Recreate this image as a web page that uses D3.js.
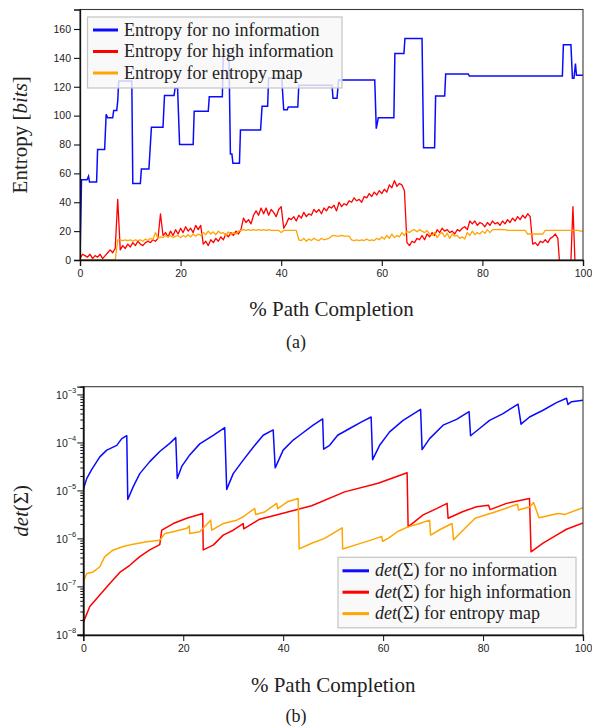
<!DOCTYPE html>
<html><head><meta charset="utf-8">
<script src="https://cdn.jsdelivr.net/npm/d3@7"></script>
<style>body{margin:0;background:#fff}</style>
</head><body><svg id="c" width="592" height="727" xmlns="http://www.w3.org/2000/svg"></svg>
<script>
// ---------- data ----------
const xTicks = [0, 20, 40, 60, 80, 100];
const entropyTicks = [0, 20, 40, 60, 80, 100, 120, 140, 160];
const detTicks = [1e-8, 1e-7, 1e-6, 1e-5, 1e-4, 1e-3];
const detTickExp = ["−8", "−7", "−6", "−5", "−4", "−3"];

const entropyLegend = ["Entropy for no information", "Entropy for high information", "Entropy for entropy map"];
const detLegendTail = [" for no information", " for high information", " for entropy map"];
const colors = ["#0a0aff", "#ff0000", "#ffa500"];

// (a) Entropy for no information : step path
const noInfoX = [0,0.3,1.4,1.7,1.9,3.3,3.5,4.9,5.2,5.5,6.5,6.7,7.3,7.5,7.7,10.3,10.5,12.0,12.2,13.7,14.2,16.5,16.8,18.7,18.9,19.4,19.8,22.5,22.7,25.5,25.7,28.3,28.5,29.6,29.9,30.2,30.4,31.7,31.9,35.9,36.2,37.3,37.5,40.1,40.5,41.2,41.4,43.3,43.5,50.1,50.3,51.1,51.4,58.6,58.9,59.3,62.4,62.6,64.4,64.6,68.0,68.3,70.5,70.7,72.5,72.7,77.2,77.4,95.9,96.1,97.6,97.9,98.2,98.5,98.7,100];
const noInfoY = [0,55.5,55.5,58,54,54,76.5,76.5,101,98.5,98.5,103.5,103.5,110,124,124,53,53,63,63,92,92,114,114,119,119,80,80,103,103,113,113,146,146,73.5,73.5,67,67,90,90,106.5,106.5,126,126,104,104,106,106,121,121,112,112,124.6,124.6,91,98.5,98.5,143,143,153.5,153.5,77.8,77.8,113.6,113.6,128.8,128.8,127.4,127.4,149,149,125.8,125.8,136,128,128];

// (a) sampled every 0.5 % of path
const highInfo = [1,4,3,2,4,1,3,2,4,1,3,5,7,5,8,42,7,10,8,11,9,12,10,13,11,10,12,13,12,14,13,15,32,17,19,16,20,17,21,18,22,19,23,20,22,19,24,21,24,11,13,10,14,12,15,13,16,14,18,16,19,17,20,18,21,29,26,28,25,31,34,31,36,32,36,31,35,33,30,35,37,22,25,29,28,30,27,31,29,33,30,32,31,35,33,35,32,36,34,37,36,38,34,40,37,39,38,41,40,43,41,42,40,44,43,46,44,47,45,48,46,49,47,52,50,55,51,53,52,48,12,10,13,12,15,14,17,14,18,16,19,17,21,19,22,20,21,19,20,18,21,20,22,23,21,27,25,27,24,26,25,23,26,24,27,25,26,24,27,25,28,26,29,27,30,28,31,29,32,30,11,12,10,13,12,14,12,15,16,18,15,-10,-10,-10,-10,-10,37,-10,-10,-10,-10];
const entropyMap = [0,0,0,0,0,0,0,0,0,0,0,0,0,0,0,14,14,13.5,14,13.5,14,13,14,13.5,14,13,14.5,13.5,15,14,19,15,16,15.5,17,16,17,15.5,16.5,17,15.5,17,16,17.5,16,18,16.5,18,17,19,17.5,20,18,19.5,17.5,20,18.5,19,17,19.5,17.5,19,18,20,20.5,21,20.5,21,20.5,21,20.5,21,20.5,21,20.5,21,20.5,20.5,20.5,20.5,19,20.5,20.5,20.5,20.5,20.5,20.5,14,13.5,15,13,14.5,13.5,15,14,13.5,15,14,14.5,15,16.5,17,16.5,16.5,17,16.5,16.5,16.5,14,13.5,14,13.5,14,13.5,14.5,13.5,14,13.5,15,14,16,14.5,17,15,18,15.5,17,16,19,17,20,19,20.5,21,19.5,21,20,19,20.5,18,17,19,15.5,18,19,16,18.5,15,18,16.5,17,15,16,14.5,19,17,20,17.5,19,18,20,18.5,21,19,21,21,21,21,21,21,20.5,20.5,20.5,20.5,20.5,20.5,20.5,20.5,18,18,18,18,18,18,18,20.5,20.5,20.5,20.5,20.5,20.5,20.5,20.5,20.5,20.5,20.5,20.5,20.5,20.5,20,20];

// (b) det(Sigma)
const detNoX = [0,0.7,1.7,3.3,4.7,6.7,7.7,8.7,8.9,10.0,11.3,13.3,15.3,17.3,18.5,18.8,19.7,21.3,23.3,26.0,28.3,28.7,30.0,32.0,34.0,36.0,38.0,38.4,40.0,42.0,43.3,46.0,47.9,48.1,49.3,50.9,53.3,55.7,57.6,57.9,59.3,61.3,64.0,67.5,67.8,69.3,72.0,74.7,77.2,77.5,79.3,81.3,84.0,87.0,87.6,89.3,92.0,94.7,96.7,97.0,97.7,100];
const detNoY = [1.05e-5,1.78e-5,2.75e-5,5.0e-5,6.9e-5,8.7e-5,1.2e-4,1.38e-4,6.46e-6,1.2e-5,2.24e-5,3.98e-5,6.46e-5,9.55e-5,1.26e-4,1.78e-5,3.16e-5,5.5e-5,9.33e-5,1.41e-4,2.04e-4,1.05e-5,2.24e-5,4.27e-5,7.94e-5,1.41e-4,1.82e-4,2.95e-5,6.92e-5,1.12e-4,1.41e-4,2.29e-4,3.09e-4,7.24e-5,8.71e-5,1.41e-4,1.95e-4,2.69e-4,3.39e-4,4.37e-5,8.71e-5,1.66e-4,2.88e-4,4.9e-4,7.08e-5,1.2e-4,2.29e-4,3.02e-4,4.37e-4,1.38e-4,1.95e-4,2.88e-4,3.98e-4,6.31e-4,2.4e-4,3.39e-4,4.68e-4,6.76e-4,8.32e-4,6.17e-4,7.08e-4,7.59e-4];

const detHighX = [0,1.3,3.3,5.3,7.3,9.3,11.3,13.3,15.3,15.7,18.0,20.7,23.9,24.0,26.0,28.0,30.0,32.0,32.1,35.3,39.0,45.7,52.3,59.0,64.8,65.0,68.0,70.7,72.8,73.0,76.0,78.7,81.1,81.4,84.7,89.3,89.6,92.0,94.7,96.7,100];
const detHighY = [1.78e-8,3.8e-8,6.61e-8,1.15e-7,1.95e-7,2.75e-7,4.17e-7,5.75e-7,7.41e-7,1.48e-6,2.04e-6,2.63e-6,3.31e-6,5.75e-7,7.24e-7,1.17e-6,1.48e-6,2.04e-6,1.58e-6,2.51e-6,3.16e-6,4.79e-6,9.33e-6,1.41e-5,2.34e-5,1.74e-6,3.09e-6,4.17e-6,5.37e-6,2.63e-6,3.63e-6,4.57e-6,4.9e-6,3.98e-6,5.37e-6,6.76e-6,5.25e-7,7.94e-7,1.17e-6,1.55e-6,2.09e-6];

const detMapX = [0,0.7,2.0,3.3,4.3,6.0,8.0,10.0,12.7,15.3,16.3,18.0,20.7,21.2,21.3,23.3,25.5,25.7,28.0,30.7,32.0,33.3,34.3,34.5,36.3,38.7,38.9,41.0,43.0,43.2,45.7,48.3,51.8,51.9,55.0,57.7,59.7,59.9,61.0,63.0,65.0,67.0,69.3,69.5,71.5,73.8,74.1,78.4,82.4,86.9,87.1,89.4,90.1,91.2,95.0,96.4,100];
const detMapY = [1.26e-7,1.86e-7,2.0e-7,2.57e-7,4.17e-7,5.75e-7,6.76e-7,7.59e-7,8.51e-7,9.12e-7,1.26e-6,1.38e-6,1.62e-6,1.82e-6,1.26e-6,1.38e-6,2.4e-6,1.48e-6,2.04e-6,2.4e-6,2.82e-6,3.55e-6,4.17e-6,3.16e-6,3.55e-6,5.37e-6,4.17e-6,5.89e-6,6.76e-6,6.03e-7,7.94e-7,1.0e-6,1.66e-6,6.03e-7,7.59e-7,9.33e-7,1.1e-6,8.71e-7,1.0e-6,1.41e-6,1.74e-6,2.0e-6,2.4e-6,1.17e-6,1.55e-6,2.04e-6,9.33e-7,2.63e-6,3.55e-6,5.13e-6,3.89e-6,4.57e-6,5.62e-6,2.69e-6,3.31e-6,3.16e-6,4.37e-6];

// ---------- drawing ----------
const svg = d3.select("#c");
const serif = "'Liberation Serif','DejaVu Serif',serif";
const sans = "'Liberation Sans',Arial,sans-serif";

function frame(g, x0, x1, y0, y1) {
  g.append("rect").attr("x", x0).attr("y", y0).attr("width", x1 - x0).attr("height", y1 - y0)
    .attr("fill", "none").attr("stroke", "#3a3a3a").attr("stroke-width", 1.1);
}

// ===== Panel (a) =====
const A = {l: 80, r: 583, t: 9.5, b: 260};
const xa = d3.scaleLinear().domain([0, 100]).range([A.l, A.r]);
const ya = d3.scaleLinear().domain([0, 173.5]).range([A.b, A.t]);
const ga = svg.append("g");
svg.append("clipPath").attr("id", "clipA").append("rect")
  .attr("x", A.l).attr("y", A.t).attr("width", A.r - A.l).attr("height", A.b - A.t);

const linesA = ga.append("g").attr("clip-path", "url(#clipA)");
const lineXY = d3.line().x(d => xa(d[0])).y(d => ya(d[1]));
linesA.append("path").datum(noInfoX.map((x, i) => [x, noInfoY[i]]))
  .attr("d", lineXY).attr("fill", "none").attr("stroke", colors[0]).attr("stroke-width", 1.5);
linesA.append("path").datum(highInfo.map((v, i) => [i * 0.5, v]))
  .attr("d", lineXY).attr("fill", "none").attr("stroke", colors[1]).attr("stroke-width", 1.3).attr("stroke-linejoin", "round");
linesA.append("path").datum(entropyMap.map((v, i) => [i * 0.5, v]))
  .attr("d", lineXY).attr("fill", "none").attr("stroke", colors[2]).attr("stroke-width", 1.3).attr("stroke-linejoin", "round");

frame(ga, A.l, A.r, A.t, A.b);
const axAy = ga.append("g").attr("transform", `translate(${A.l},0)`)
  .call(d3.axisLeft(ya).tickValues(entropyTicks).tickSize(6).tickPadding(3));
const axAx = ga.append("g").attr("transform", `translate(0,${A.b})`)
  .call(d3.axisBottom(xa).tickValues(xTicks).tickSize(6).tickPadding(4));
[axAy, axAx].forEach(ax => {
  ax.selectAll("path.domain").attr("stroke", "#111").attr("stroke-width", 1.3);
  ax.selectAll(".tick line").attr("stroke", "#111").attr("stroke-width", 1.1);
  ax.selectAll("text").attr("font-family", sans).attr("font-size", 10.5).attr("fill", "#222");
});

// legend (a)
const lgA = ga.append("g");
lgA.append("rect").attr("x", 87.5).attr("y", 17).attr("width", 254.5).attr("height", 71)
  .attr("fill", "rgba(248,248,248,0.82)").attr("stroke", "#c4c4c4").attr("stroke-width", 1.2);
entropyLegend.forEach((t, i) => {
  const cy = 30 + i * 21.5;
  lgA.append("line").attr("x1", 93).attr("x2", 118).attr("y1", cy).attr("y2", cy)
    .attr("stroke", colors[i]).attr("stroke-width", 3);
  lgA.append("text").attr("x", 124).attr("y", cy + 5.5).attr("font-family", serif)
    .attr("font-size", 18).attr("fill", "#222").text(t);
});

// labels (a)
const ylabA = ga.append("text").attr("transform", `translate(27,${(A.t + A.b) / 2}) rotate(-90)`)
  .attr("text-anchor", "middle").attr("font-family", serif).attr("font-size", 21).attr("fill", "#222");
ylabA.append("tspan").text("Entropy [");
ylabA.append("tspan").attr("font-style", "italic").text("bits");
ylabA.append("tspan").text("]");
ga.append("text").attr("x", (A.l + A.r) / 2).attr("y", 316).attr("text-anchor", "middle")
  .attr("font-family", serif).attr("font-size", 21).attr("fill", "#222").text("% Path Completion");
ga.append("text").attr("x", 296).attr("y", 348).attr("text-anchor", "middle")
  .attr("font-family", serif).attr("font-size", 18).attr("fill", "#222").text("(a)");

// ===== Panel (b) =====
const B = {l: 83.3, r: 583, t: 386.7, b: 635};
const xb = d3.scaleLinear().domain([0, 100]).range([B.l, B.r]);
const yb = d3.scaleLog().domain([9.7e-9, 1.45e-3]).range([B.b, B.t]);
const gb = svg.append("g");
svg.append("clipPath").attr("id", "clipB").append("rect")
  .attr("x", B.l).attr("y", B.t).attr("width", B.r - B.l).attr("height", B.b - B.t);
const linesB = gb.append("g").attr("clip-path", "url(#clipB)");
const lineB = d3.line().x(d => xb(d[0])).y(d => yb(d[1]));
[[detNoX, detNoY], [detHighX, detHighY], [detMapX, detMapY]].forEach((s, k) => {
  linesB.append("path").datum(s[0].map((x, i) => [x, s[1][i]]))
    .attr("d", lineB).attr("fill", "none").attr("stroke", colors[k]).attr("stroke-width", 1.5)
    .attr("stroke-linejoin", "round");
});

frame(gb, B.l, B.r, B.t, B.b);
const minor = yb.ticks().filter(v => !detTicks.some(m => Math.abs(m - v) / m < 1e-6));
const axBminor = gb.append("g").attr("transform", `translate(${B.l},0)`)
  .call(d3.axisLeft(yb).tickValues(minor).tickSize(3).tickFormat(""));
const axBy = gb.append("g").attr("transform", `translate(${B.l},0)`)
  .call(d3.axisLeft(yb).tickValues(detTicks).tickSize(6).tickPadding(3).tickFormat(""));
const axBx = gb.append("g").attr("transform", `translate(0,${B.b})`)
  .call(d3.axisBottom(xb).tickValues(xTicks).tickSize(6).tickPadding(4));
[axBminor, axBy, axBx].forEach(ax => {
  ax.selectAll("path.domain").attr("stroke", "#111").attr("stroke-width", 1.3);
  ax.selectAll(".tick line").attr("stroke", "#111").attr("stroke-width", 1);
  ax.selectAll("text").attr("font-family", sans).attr("font-size", 10.5).attr("fill", "#222");
});
// log tick labels 10^n
axBy.selectAll(".tick").each(function(d, i) {
  const t = d3.select(this).append("text").attr("x", -7).attr("dy", "0.35em")
    .attr("text-anchor", "end").attr("font-family", sans).attr("font-size", 10.5).attr("fill", "#222");
  t.append("tspan").text("10");
  t.append("tspan").attr("font-size", 7.5).attr("dy", "-0.75em").text(detTickExp[i]);
});

// legend (b)
const lgB = gb.append("g");
lgB.append("rect").attr("x", 338).attr("y", 557.3).attr("width", 238).attr("height", 70.5)
  .attr("fill", "rgba(248,248,248,0.82)").attr("stroke", "#c4c4c4").attr("stroke-width", 1.2);
detLegendTail.forEach((t, i) => {
  const cy = 570.8 + i * 21.4;
  lgB.append("line").attr("x1", 342.5).attr("x2", 369).attr("y1", cy).attr("y2", cy)
    .attr("stroke", colors[i]).attr("stroke-width", 3);
  const tx = lgB.append("text").attr("x", 375).attr("y", cy + 5.5).attr("font-family", serif)
    .attr("font-size", 18).attr("fill", "#222");
  tx.append("tspan").attr("font-style", "italic").text("det");
  tx.append("tspan").text("(Σ)" + t);
});

// labels (b)
const ylabB = gb.append("text").attr("transform", `translate(28,${(B.t + B.b) / 2}) rotate(-90)`)
  .attr("text-anchor", "middle").attr("font-family", serif).attr("font-size", 21).attr("fill", "#222");
ylabB.append("tspan").attr("font-style", "italic").text("det");
ylabB.append("tspan").text("(Σ)");
gb.append("text").attr("x", (B.l + B.r) / 2).attr("y", 692).attr("text-anchor", "middle")
  .attr("font-family", serif).attr("font-size", 21).attr("fill", "#222").text("% Path Completion");
gb.append("text").attr("x", 296).attr("y", 722).attr("text-anchor", "middle")
  .attr("font-family", serif).attr("font-size", 18).attr("fill", "#222").text("(b)");
</script>
</body></html>
